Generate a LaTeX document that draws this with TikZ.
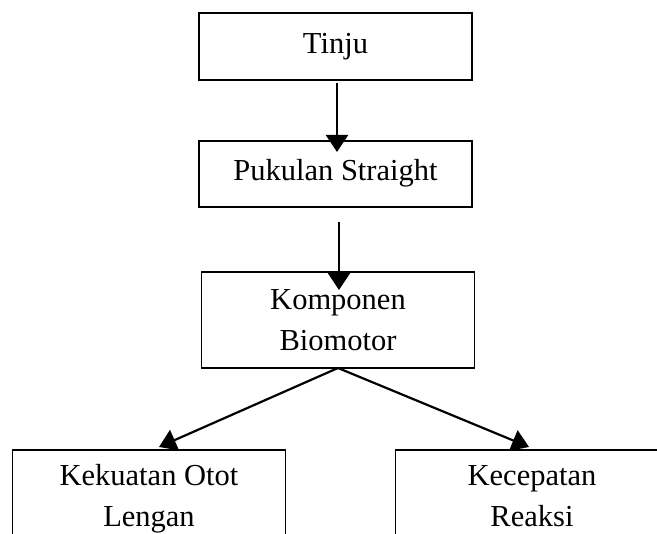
\documentclass[tikz,border=0pt]{standalone}
\usepackage{fontspec}
\setmainfont{Liberation Serif}
\usetikzlibrary{positioning,arrows.meta}

\begin{document}
\begin{tikzpicture}[
  box/.style={draw, line width=1.8pt, align=center, outer sep=0pt, minimum width=273pt, font=\fontsize{30.5}{41}\selectfont},
  ar/.style={-{Triangle[length=17pt,width=22pt]}, line width=2.2pt}]
\useasboundingbox (0,0) rectangle (657pt,-534pt);
\clip (0,0) rectangle (657pt,-534pt);
\node[box, minimum height=67pt, text height=20pt, text depth=6.5pt] (tinju) at (335.5pt,-46.5pt) {Tinju};
\node[box, minimum height=66pt, text height=20pt, text depth=6.5pt, below=61pt of tinju] (puk) {Pukulan Straight};
\node[box, minimum height=96pt, below=65pt of puk, xshift=2.5pt] (komp) {Komponen\\ Biomotor};
\node[box, minimum height=98pt, below=82pt of komp, xshift=-189pt] (otot) {Kekuatan Otot\\ Lengan};
\node[box, minimum height=98pt, below=82pt of komp, xshift=194pt] (reaksi) {Kecepatan\\ Reaksi\vphantom{g}};
\draw[ar] ([xshift=1.5pt,yshift=-3pt]tinju.south) -- ([xshift=1.5pt,yshift=-11pt]puk.north);
\draw[ar] ([xshift=3.5pt,yshift=-15pt]puk.south) -- ([xshift=1pt,yshift=-18pt]komp.north);
\draw[ar] (komp.south) -- ([xshift=10pt,yshift=3pt]otot.north);
\draw[ar] (komp.south) -- ([xshift=-3pt,yshift=3pt]reaksi.north);
\end{tikzpicture}
\end{document}
